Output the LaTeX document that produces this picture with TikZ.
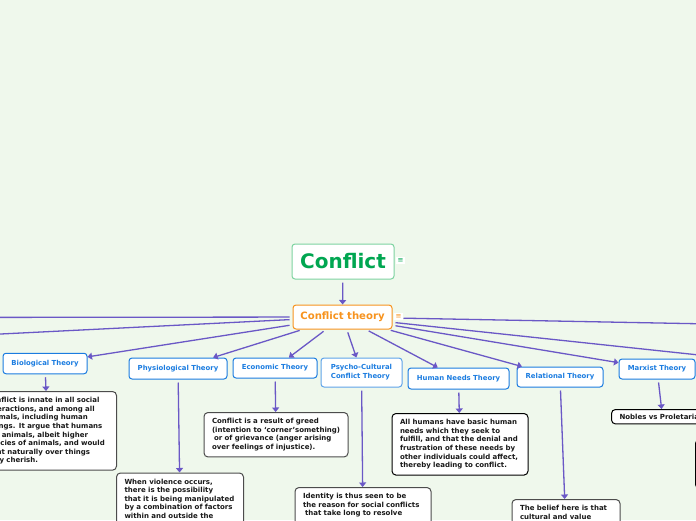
\documentclass[tikz,border=0pt]{standalone}
\usepackage{fontspec}
\setmainfont{DejaVu Sans}
\usetikzlibrary{arrows.meta}
\definecolor{pagebg}{HTML}{EFF8EC}
\definecolor{rootgreen}{HTML}{00A651}
\definecolor{rootedge}{HTML}{7DD3A0}
\definecolor{themeorange}{HTML}{F7931E}
\definecolor{theoryblue}{HTML}{1B7CE0}
\definecolor{linkpurple}{HTML}{6A58C6}
\tikzset{
    rootbox/.style={draw=rootedge,fill=white,line width=1pt,rounded corners=3pt,text=rootgreen,
        font=\fontsize{20}{24}\selectfont\bfseries,minimum width=102pt,minimum height=35pt},
    themebox/.style={draw=themeorange,fill=white,line width=1pt,rounded corners=3pt,text=themeorange,
        font=\fontsize{10.1}{12}\selectfont\bfseries,minimum width=99pt,minimum height=24pt},
    theorybox/.style={draw=theoryblue,fill=white,line width=1pt,rounded corners=3pt,text=theoryblue,
        font=\fontsize{6.9}{9}\selectfont\bfseries,align=left,inner sep=0pt},
    notebox/.style={draw=black!70,fill=white,line width=1pt,rounded corners=4pt,anchor=north west,
        font=\fontsize{7}{8.55}\selectfont\bfseries,align=left,inner xsep=8pt,inner ysep=6pt,text=black!90},
    noteicon/.style={fill=white,inner sep=1.5pt,font=\fontsize{7}{7}\selectfont},
    link/.style={draw=linkpurple,line width=1.3pt,-{Triangle[width=7pt,length=4.5pt]},shorten <=3pt},
    freelink/.style={draw=linkpurple,line width=1.3pt,shorten <=3pt}
}
\begin{document}
\begin{tikzpicture}[x=1pt,y=-1pt]
    \useasboundingbox (0,0) rectangle (696,520);
    \fill[pagebg] (0,0) rectangle (696,520);
    \clip (0,0) rectangle (696,520);
    % root and main topic
    \node[rootbox] (root) at (343,261.5) {Conflict};
    \node[themebox] (theory) at (342.5,317) {Conflict theory};
    \node[noteicon,text=rootgreen] (rooticon) at (400.5,260.5) {≡};
    \node[noteicon,text=themeorange] (theoryicon) at (398.5,316.5) {≡};
    % theories
    \node[theorybox,minimum width=84pt,minimum height=20.5pt] (bio) at (45,363.5) {Biological Theory};
    \node[theorybox,minimum width=98pt,minimum height=21pt] (physio) at (178,368.5) {Physiological Theory};
    \node[theorybox,minimum width=84pt,minimum height=20pt] (econ) at (275,368) {Economic Theory};
    \node[theorybox,minimum width=81pt,minimum height=29pt,draw=theoryblue!70] (psycho) at (361.5,372.5) {Psycho-Cultural\\Conflict Theory};
    \node[theorybox,minimum width=101pt,minimum height=21pt] (needs) at (458.5,378.5) {Human Needs Theory};
    \node[theorybox,minimum width=86pt,minimum height=20pt] (relation) at (560,377) {Relational Theory};
    \node[theorybox,minimum width=76pt,minimum height=20pt] (marx) at (657,369) {Marxist Theory};
    % notes
    \node[notebox,text width=122pt] (bionote) at (-22,391) {Conflict is innate in all social\\interactions, and among all\\animals, including human\\beings. It argue that humans\\are animals, albeit higher\\species of animals, and would\\fight naturally over things\\they cherish.};
    \node[notebox,text width=111pt,text depth=40pt] (physionote) at (116,472.5) {When violence occurs,\\there is the possibility\\that it is being manipulated\\by a combination of factors\\within and outside the};
    \node[notebox,text width=128pt] (econote) at (203.5,412) {Conflict is a result of greed\\(intention to `corner'something)\\\hspace*{2pt}or of grievance (anger arising\\over feelings of injustice).};
    \node[notebox,text width=120pt,text depth=50pt] (psychonote) at (294.5,487) {Identity is thus seen to be\\the reason for social conflicts\\\hspace*{2pt}that take long to resolve};
    \node[notebox,text width=120pt,draw=black] (needsnote) at (391.5,413) {All humans have basic human\\needs which they seek to\\fulfill, and that the denial and\\frustration of these needs by\\other individuals could affect,\\thereby leading to conflict.};
    \node[notebox,text width=92pt,text depth=50pt] (relationnote) at (511.5,499) {The belief here is that\\cultural and value};
    \node[notebox,text width=86pt,draw=black,inner ysep=4.5pt] (marxnote) at (611,409) {\makebox[86pt][l]{Nobles vs Proletarians}};
    \node[notebox,draw=black,minimum width=40pt,minimum height=49pt] (edgenote) at (695,439) {};
    % connectors
    \coordinate (farleft) at (-200,317.6);
    \coordinate (farleftb) at (-200,344);
    \coordinate (farright) at (896,327.5);
    \coordinate (farrightb) at (896,376);
    \draw[link] (root) -- (theory);
    \draw[freelink] (theory) -- (farleft);
    \draw[freelink] (theory) -- (farleftb);
    \draw[freelink] (theory) -- (farrightb);
    \draw[freelink,shorten <=11pt] (theory) -- (farright);
    \foreach \kid in {bio,physio,econ,psycho,needs,relation,marx}
        \draw[link] (theory) -- (\kid);
    \draw[link] (bio) -- (bionote);
    \draw[link] (physio) -- (physionote);
    \draw[link] (econ) -- (econote);
    \draw[link] (psycho) -- (psychonote);
    \draw[link] (needs) -- (needsnote);
    \draw[link] (relation) -- (relationnote);
    \draw[link] (marx) -- (marxnote);
\end{tikzpicture}
\end{document}
